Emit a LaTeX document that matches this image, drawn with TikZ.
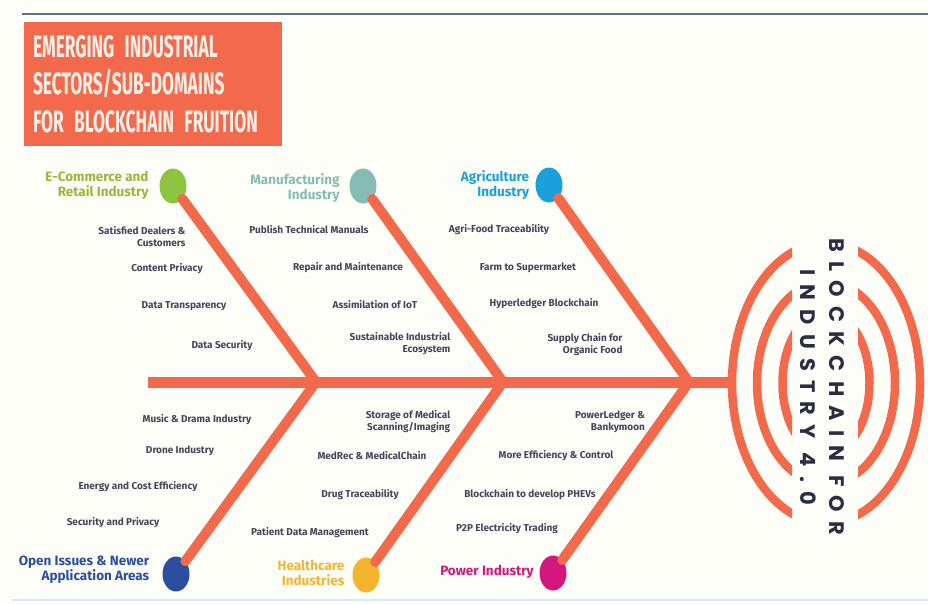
\documentclass[tikz,border=0pt]{standalone}
\usepackage{fontspec}
\setmainfont{Fira Sans}
\newfontfamily\titlefont{Fira Sans}[FakeStretch=0.56]
\newfontfamily\ringfont{Poppins}[LetterSpace=44]
\usepackage{tikz}
\usetikzlibrary{shapes.geometric,positioning}

\newcommand\titlestyle{\titlefont\fontsize{31}{37.5}\selectfont\bfseries\spaceskip=4pt plus 1pt\relax}

\definecolor{coral}{HTML}{F26A4B}
\definecolor{paper}{HTML}{FEFEF9}
\definecolor{ink}{HTML}{45455A}
\definecolor{rule}{HTML}{5C7383}
\definecolor{faint}{HTML}{D5ECF4}
\definecolor{cream}{HTML}{FCEFE8}
\definecolor{navy}{HTML}{2B2E42}
\definecolor{ecomgreen}{HTML}{8DC43F}
\definecolor{ecomtext}{HTML}{9DB53A}
\definecolor{manuteal}{HTML}{86BCB3}
\definecolor{agriblue}{HTML}{1BA0DB}
\definecolor{openblue}{HTML}{2B4F9E}
\definecolor{healthgold}{HTML}{F4B52E}
\definecolor{powerpink}{HTML}{D4177C}

\begin{document}
\begin{tikzpicture}[x=1pt, y=-1pt,
  bone/.style={draw=coral, line width=10pt, line cap=round},
  spine/.style={draw=coral, line width=11pt},
  ring/.style={draw=coral, line width=8.5pt},
  knob/.style={ellipse, minimum width=27pt, minimum height=35pt, inner sep=0pt},
  sector/.style={font=\fontsize{13.5}{15}\selectfont\bfseries, align=right, inner sep=0pt},
  item/.style={font=\fontsize{10}{12}\selectfont\bfseries, text=ink, align=right, inner sep=0pt},
  ringtext/.style={font=\ringfont\fontsize{21}{21}\selectfont\bfseries, text=navy, rotate=-90, inner sep=0pt},
  titlebox/.style={fill=coral, text=cream, minimum width=258pt, minimum height=124pt,
    text width=240pt, align=left, inner sep=9pt, font=\titlestyle}]

  \useasboundingbox (0,0) rectangle (928,603);
  \fill[paper] (0,0) rectangle (928,603);
  \draw[rule, line width=2.5pt] (22,14) -- (928,14);
  \draw[faint, line width=1.5pt] (12,600) -- (928,600);

  \node[titlebox] (title) at (153,84) {EMERGING INDUSTRIAL\\SECTORS/SUB-DOMAINS\\FOR BLOCKCHAIN FRUITION};

  \coordinate (tail) at (148,382);
  \coordinate (j1) at (316,382);
  \coordinate (j2) at (503,382);
  \coordinate (j3) at (689,382);
  \coordinate (head) at (733,382);
  \coordinate (hub) at (826,383);

  \node[knob, fill=ecomgreen] (ecom) at (173,186) {};
  \node[knob, fill=manuteal] (manu) at (363,186) {};
  \node[knob, fill=agriblue] (agri) at (549,185) {};
  \node[knob, fill=openblue] (open) at (176,574) {};
  \node[knob, fill=healthgold] (health) at (366,575) {};
  \node[knob, fill=powerpink] (power) at (553,573) {};

  \draw[spine] (tail) -- (head);
  \draw[bone] (ecom) -- (j1);
  \draw[bone] (open) -- (j1);
  \draw[bone] (manu) -- (j2);
  \draw[bone] (health) -- (j2);
  \draw[bone] (agri) -- (j3);
  \draw[bone] (power) -- (j3);

  \begin{scope}
    \clip (700,230) rectangle (792,540) (858,230) rectangle (940,540);
    \foreach \rx/\ry in {94/140, 69/101, 43.5/71}
      \draw[ring] (hub) ellipse[x radius=\rx, y radius=\ry];
  \end{scope}
  \node[ringtext] (bcfor) at (837,387) {BLOCKCHAIN FOR};
  \node[ringtext] (ind40) at (808,387) {INDUSTRY 4.0};

  \node[sector, text=ecomtext] (ecomlab) at (97,185) {E-Commerce and\\Retail Industry};
  \node[sector, text=manuteal] (manulab) at (295,188) {Manufacturing\\Industry};
  \node[sector, text=agriblue] (agrilab) at (495,185) {Agriculture\\Industry};
  \node[sector, text=openblue] (openlab) at (84,570) {Open Issues \& Newer\\Application Areas};
  \node[sector, text=healthgold] (healthlab) at (311,573) {Healthcare\\Industries};
  \node[sector, text=powerpink] (powerlab) at (487,572) {Power Industry};

  \node[item] (dealers) at (142,237) {Satisfied Dealers \&\\Customers};
  \node[item] (cprivacy) at (167,269) {Content Privacy};
  \node[item] (dtransp) at (184,306) {Data Transparency};
  \node[item] (dsecurity) at (222,346) {Data Security};

  \node[item] (manuals) at (309,230) {Publish Technical Manuals};
  \node[item] (repair) at (348,268) {Repair and Maintenance};
  \node[item] (iot) at (375,305) {Assimilation of IoT};
  \node[item] (sustain) at (400,344) {Sustainable Industrial\\Ecosystem};

  \node[item] (agrifood) at (499,230) {Agri-Food Traceability};
  \node[item] (farm) at (528,268) {Farm to Supermarket};
  \node[item] (hyper) at (544,304) {Hyperledger Blockchain};
  \node[item] (supply) at (585,345) {Supply Chain for\\Organic Food};

  \node[item] (music) at (197,420) {Music \& Drama Industry};
  \node[item] (drone) at (180,451) {Drone Industry};
  \node[item] (energy) at (138,487) {Energy and Cost Efficiency};
  \node[item] (secpriv) at (113,523) {Security and Privacy};

  \node[item] (storage) at (408,422) {Storage of Medical\\Scanning/Imaging};
  \node[item] (medrec) at (372,456) {MedRec \& MedicalChain};
  \node[item] (drug) at (360,495) {Drug Traceability};
  \node[item] (patient) at (310,533) {Patient Data Management};

  \node[item] (pledger) at (610,422) {PowerLedger \&\\Bankymoon};
  \node[item] (moreeff) at (556,456) {More Efficiency \& Control};
  \node[item] (phev) at (530,495) {Blockchain to develop PHEVs};
  \node[item] (p2p) at (507,529) {P2P Electricity Trading};
\end{tikzpicture}
\end{document}
